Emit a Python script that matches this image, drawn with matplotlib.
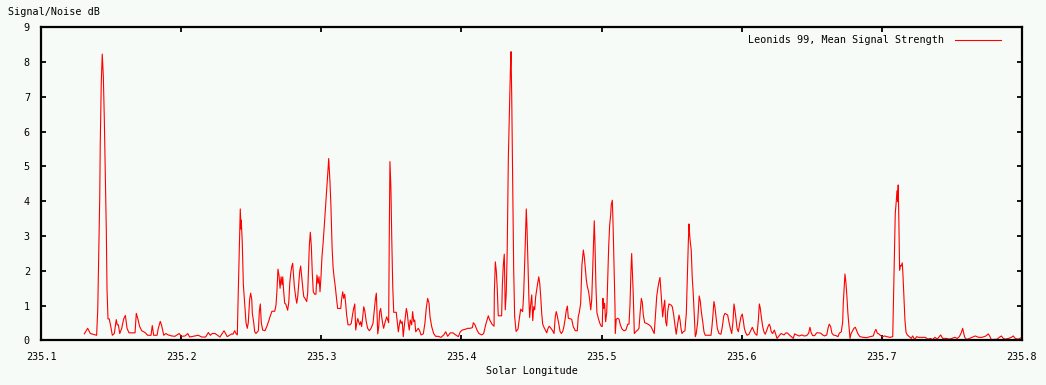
import matplotlib
matplotlib.use("Agg")
import matplotlib.pyplot as plt

# solar longitude (deg) and mean signal/noise (dB)
lon = [
    235.1309, 235.1333, 235.1352, 235.1397, 235.1405, 235.1412, 235.1419, 235.1423, 235.1430, 235.1437,
    235.1445, 235.1452, 235.1459, 235.1466, 235.1471, 235.1478, 235.1487, 235.1497, 235.1509, 235.1523,
    235.1537, 235.1544, 235.1552, 235.1562, 235.1576, 235.1590, 235.1602, 235.1614, 235.1628, 235.1671,
    235.1680, 235.1690, 235.1704, 235.1719, 235.1742, 235.1761, 235.1785, 235.1794, 235.1804, 235.1828,
    235.1837, 235.1851, 235.1861, 235.1876, 235.1890, 235.1908, 235.1933, 235.1956, 235.1985, 235.2004,
    235.2028, 235.2047, 235.2061, 235.2099, 235.2122, 235.2147, 235.2175, 235.2194, 235.2208, 235.2222,
    235.2242, 235.2277, 235.2306, 235.2329, 235.2361, 235.2370, 235.2382, 235.2392, 235.2401, 235.2404,
    235.2411, 235.2418, 235.2422, 235.2427, 235.2429, 235.2436, 235.2444, 235.2454, 235.2463, 235.2472,
    235.2479, 235.2489, 235.2496, 235.2504, 235.2508, 235.2518, 235.2525, 235.2534, 235.2551, 235.2558,
    235.2565, 235.2572, 235.2582, 235.2598, 235.2611, 235.2625, 235.2634, 235.2648, 235.2668, 235.2677,
    235.2684, 235.2691, 235.2698, 235.2706, 235.2713, 235.2720, 235.2725, 235.2732, 235.2739, 235.2746,
    235.2753, 235.2760, 235.2768, 235.2775, 235.2782, 235.2789, 235.2796, 235.2800, 235.2808, 235.2817,
    235.2825, 235.2832, 235.2839, 235.2846, 235.2853, 235.2860, 235.2867, 235.2875, 235.2884, 235.2896,
    235.2903, 235.2910, 235.2915, 235.2922, 235.2929, 235.2936, 235.2943, 235.2953, 235.2962, 235.2969,
    235.2977, 235.2984, 235.2991, 235.2998, 235.3005, 235.3014, 235.3022, 235.3029, 235.3036, 235.3043,
    235.3048, 235.3053, 235.3057, 235.3062, 235.3069, 235.3077, 235.3084, 235.3091, 235.3100, 235.3110,
    235.3117, 235.3139, 235.3146, 235.3153, 235.3160, 235.3167, 235.3174, 235.3181, 235.3191, 235.3205,
    235.3214, 235.3224, 235.3231, 235.3239, 235.3246, 235.3253, 235.3260, 235.3267, 235.3274, 235.3281,
    235.3288, 235.3296, 235.3303, 235.3310, 235.3321, 235.3331, 235.3343, 235.3355, 235.3369, 235.3378,
    235.3386, 235.3393, 235.3398, 235.3403, 235.3410, 235.3417, 235.3424, 235.3431, 235.3438, 235.3445,
    235.3453, 235.3460, 235.3467, 235.3474, 235.3481, 235.3485, 235.3490, 235.3497, 235.3503, 235.3510,
    235.3517, 235.3535, 235.3542, 235.3550, 235.3557, 235.3564, 235.3571, 235.3578, 235.3585, 235.3592,
    235.3600, 235.3607, 235.3614, 235.3621, 235.3628, 235.3635, 235.3645, 235.3652, 235.3660, 235.3667,
    235.3674, 235.3683, 235.3692, 235.3702, 235.3712, 235.3728, 235.3740, 235.3749, 235.3759, 235.3769,
    235.3776, 235.3788, 235.3802, 235.3816, 235.3835, 235.3854, 235.3874, 235.3888, 235.3902, 235.3921,
    235.3940, 235.3959, 235.3978, 235.3992, 235.4006, 235.4026, 235.4045, 235.4063, 235.4078, 235.4085,
    235.4097, 235.4111, 235.4125, 235.4145, 235.4159, 235.4173, 235.4183, 235.4192, 235.4202, 235.4218,
    235.4233, 235.4235, 235.4242, 235.4249, 235.4256, 235.4263, 235.4287, 235.4292, 235.4299, 235.4306,
    235.4313, 235.4320, 235.4327, 235.4335, 235.4342, 235.4349, 235.4354, 235.4359, 235.4366, 235.4373,
    235.4380, 235.4390, 235.4404, 235.4413, 235.4423, 235.4437, 235.4444, 235.4452, 235.4459, 235.4463,
    235.4468, 235.4475, 235.4482, 235.4487, 235.4494, 235.4502, 235.4509, 235.4516, 235.4523, 235.4530,
    235.4537, 235.4544, 235.4552, 235.4559, 235.4566, 235.4573, 235.4580, 235.4589, 235.4599, 235.4609,
    235.4618, 235.4627, 235.4639, 235.4651, 235.4661, 235.4670, 235.4677, 235.4684, 235.4694, 235.4704,
    235.4713, 235.4723, 235.4732, 235.4741, 235.4748, 235.4756, 235.4763, 235.4787, 235.4798, 235.4813,
    235.4827, 235.4834, 235.4841, 235.4851, 235.4860, 235.4870, 235.4877, 235.4884, 235.4891, 235.4898,
    235.4908, 235.4915, 235.4923, 235.4930, 235.4937, 235.4944, 235.4948, 235.4953, 235.4960, 235.4967,
    235.4977, 235.4987, 235.4998, 235.5005, 235.5010, 235.5015, 235.5022, 235.5029, 235.5037, 235.5044,
    235.5051, 235.5058, 235.5065, 235.5069, 235.5077, 235.5082, 235.5089, 235.5096, 235.5098, 235.5105,
    235.5115, 235.5125, 235.5134, 235.5146, 235.5160, 235.5174, 235.5187, 235.5196, 235.5203, 235.5210,
    235.5215, 235.5219, 235.5226, 235.5234, 235.5246, 235.5258, 235.5267, 235.5276, 235.5284, 235.5291,
    235.5298, 235.5308, 235.5322, 235.5339, 235.5353, 235.5367, 235.5376, 235.5384, 235.5394, 235.5403,
    235.5410, 235.5417, 235.5422, 235.5429, 235.5436, 235.5444, 235.5451, 235.5458, 235.5465, 235.5472,
    235.5481, 235.5496, 235.5505, 235.5515, 235.5524, 235.5533, 235.5543, 235.5553, 235.5560, 235.5567,
    235.5574, 235.5583, 235.5595, 235.5605, 235.5612, 235.5619, 235.5624, 235.5629, 235.5633, 235.5640,
    235.5647, 235.5655, 235.5662, 235.5669, 235.5676, 235.5686, 235.5693, 235.5697, 235.5705, 235.5712,
    235.5722, 235.5731, 235.5740, 235.5758, 235.5781, 235.5788, 235.5795, 235.5802, 235.5809, 235.5817,
    235.5826, 235.5838, 235.5852, 235.5862, 235.5872, 235.5881, 235.5900, 235.5909, 235.5919, 235.5929,
    235.5938, 235.5945, 235.5952, 235.5959, 235.5967, 235.5976, 235.5986, 235.5995, 235.6004, 235.6011,
    235.6019, 235.6028, 235.6038, 235.6052, 235.6066, 235.6076, 235.6086, 235.6095, 235.6109, 235.6119,
    235.6126, 235.6133, 235.6140, 235.6150, 235.6159, 235.6168, 235.6178, 235.6188, 235.6197, 235.6204,
    235.6211, 235.6221, 235.6233, 235.6243, 235.6252, 235.6266, 235.6281, 235.6302, 235.6316, 235.6328,
    235.6340, 235.6354, 235.6368, 235.6378, 235.6393, 235.6411, 235.6430, 235.6445, 235.6464, 235.6478,
    235.6487, 235.6497, 235.6507, 235.6521, 235.6535, 235.6549, 235.6564, 235.6578, 235.6592, 235.6607,
    235.6616, 235.6625, 235.6635, 235.6644, 235.6654, 235.6673, 235.6687, 235.6697, 235.6711, 235.6721,
    235.6725, 235.6732, 235.6737, 235.6744, 235.6751, 235.6758, 235.6766, 235.6773, 235.6780, 235.6792,
    235.6801, 235.6811, 235.6821, 235.6830, 235.6844, 235.6868, 235.6892, 235.6916, 235.6939, 235.6949,
    235.6958, 235.6968, 235.6978, 235.6992, 235.7006, 235.7020, 235.7035, 235.7058, 235.7078, 235.7082,
    235.7089, 235.7096, 235.7103, 235.7108, 235.7113, 235.7117, 235.7122, 235.7127, 235.7132, 235.7139,
    235.7146, 235.7151, 235.7158, 235.7165, 235.7173, 235.7182, 235.7196, 235.7210, 235.7220, 235.7234,
    235.7249, 235.7263, 235.7296, 235.7310, 235.7329, 235.7344, 235.7363, 235.7379, 235.7396, 235.7406,
    235.7420, 235.7434, 235.7463, 235.7481, 235.7501, 235.7520, 235.7539, 235.7553, 235.7567, 235.7577,
    235.7585, 235.7592, 235.7606, 235.7625, 235.7644, 235.7667, 235.7691, 235.7715, 235.7729, 235.7743,
    235.7760, 235.7772, 235.7781, 235.7800, 235.7824, 235.7838, 235.7853, 235.7867, 235.7881, 235.7905,
    235.7924, 235.7938, 235.7952, 235.7972, 235.7986, 235.7998,
]

snr = [
    0.19, 0.35, 0.20, 0.15, 0.90, 2.50, 4.07, 5.70, 7.39, 8.23,
    7.56, 6.32, 4.82, 3.16, 1.48, 0.62, 0.62, 0.42, 0.15, 0.20,
    0.60, 0.45, 0.45, 0.20, 0.35, 0.62, 0.72, 0.35, 0.22, 0.22,
    0.78, 0.64, 0.40, 0.28, 0.23, 0.15, 0.15, 0.43, 0.15, 0.15,
    0.35, 0.55, 0.43, 0.15, 0.20, 0.16, 0.13, 0.12, 0.20, 0.12,
    0.13, 0.20, 0.10, 0.13, 0.15, 0.10, 0.10, 0.23, 0.15, 0.20,
    0.20, 0.10, 0.28, 0.11, 0.19, 0.18, 0.28, 0.20, 0.16, 0.76,
    1.98, 3.18, 3.78, 3.20, 3.46, 2.84, 1.61, 1.05, 0.51, 0.35,
    0.51, 1.18, 1.36, 1.18, 0.78, 0.51, 0.25, 0.20, 0.28, 0.84,
    1.05, 0.51, 0.30, 0.28, 0.40, 0.56, 0.68, 0.84, 0.84, 1.02,
    1.45, 2.05, 1.88, 1.50, 1.83, 1.60, 1.83, 1.40, 1.07, 1.05,
    0.97, 0.87, 1.09, 1.64, 1.93, 2.12, 2.22, 1.98, 1.55, 1.26,
    1.07, 1.26, 1.64, 1.98, 2.14, 1.83, 1.55, 1.26, 1.21, 1.12,
    1.36, 2.12, 2.74, 3.11, 2.71, 1.93, 1.40, 1.33, 1.33, 1.88,
    1.64, 1.83, 1.40, 1.83, 2.41, 2.84, 3.32, 3.70, 4.13, 4.56,
    4.90, 5.23, 4.95, 4.56, 3.85, 2.70, 2.12, 1.83, 1.55, 1.16,
    0.92, 0.92, 1.21, 1.40, 1.21, 1.33, 1.07, 0.73, 0.45, 0.45,
    0.49, 0.76, 0.92, 1.05, 0.30, 0.49, 0.63, 0.54, 0.45, 0.54,
    0.40, 0.68, 0.97, 0.87, 0.54, 0.35, 0.28, 0.35, 0.49, 0.87,
    1.18, 1.36, 0.78, 0.19, 0.40, 0.83, 0.92, 0.68, 0.49, 0.35,
    0.49, 0.59, 0.68, 0.59, 0.51, 2.84, 5.14, 4.37, 2.93, 1.55,
    0.81, 0.81, 0.54, 0.25, 0.45, 0.59, 0.49, 0.54, 0.11, 0.40,
    0.68, 0.92, 0.78, 0.49, 0.30, 0.59, 0.45, 0.83, 0.54, 0.59,
    0.25, 0.30, 0.35, 0.28, 0.16, 0.19, 0.51, 0.92, 1.21, 1.07,
    0.68, 0.40, 0.20, 0.12, 0.12, 0.09, 0.16, 0.25, 0.12, 0.22,
    0.22, 0.16, 0.11, 0.25, 0.30, 0.32, 0.35, 0.35, 0.37, 0.51,
    0.45, 0.30, 0.20, 0.16, 0.20, 0.45, 0.59, 0.71, 0.59, 0.47,
    0.41, 1.35, 2.26, 2.00, 1.47, 0.71, 0.71, 1.56, 2.17, 2.48,
    0.88, 1.36, 2.62, 5.26, 6.47, 7.69, 8.30, 7.03, 4.54, 2.05,
    0.69, 0.26, 0.33, 0.62, 0.90, 0.83, 1.31, 2.29, 3.25, 3.78,
    3.25, 2.22, 1.16, 0.66, 1.02, 1.31, 0.57, 0.97, 0.88, 1.26,
    1.45, 1.64, 1.83, 1.64, 1.26, 0.78, 0.47, 0.38, 0.30, 0.22,
    0.35, 0.41, 0.35, 0.28, 0.20, 0.69, 0.83, 0.71, 0.50, 0.26,
    0.20, 0.26, 0.41, 0.64, 0.86, 0.99, 0.64, 0.61, 0.40, 0.28,
    0.28, 0.69, 0.80, 1.07, 2.17, 2.60, 2.41, 2.07, 1.76, 1.56,
    1.40, 1.18, 0.88, 1.18, 2.07, 2.98, 3.44, 2.81, 1.55, 0.80,
    0.64, 0.50, 0.41, 0.40, 1.21, 0.92, 1.07, 0.54, 0.80, 1.76,
    2.70, 3.32, 3.60, 3.89, 4.03, 3.38, 2.12, 0.97, 0.20, 0.61,
    0.64, 0.61, 0.45, 0.33, 0.28, 0.30, 0.47, 0.47, 1.02, 2.00,
    2.50, 2.10, 1.36, 0.20, 0.26, 0.30, 0.35, 0.83, 1.21, 1.09,
    0.73, 0.51, 0.49, 0.45, 0.40, 0.28, 0.20, 0.68, 1.28, 1.53,
    1.69, 1.81, 1.53, 1.09, 0.68, 0.97, 1.16, 0.54, 0.42, 0.83,
    1.05, 1.02, 0.97, 0.73, 0.44, 0.18, 0.47, 0.73, 0.59, 0.35,
    0.20, 0.25, 0.28, 0.78, 1.81, 2.79, 3.35, 3.03, 2.84, 2.60,
    1.83, 1.31, 0.68, 0.11, 0.20, 0.54, 1.02, 1.28, 1.12, 0.83,
    0.54, 0.25, 0.15, 0.15, 0.15, 0.40, 0.73, 1.12, 0.97, 0.68,
    0.35, 0.20, 0.18, 0.40, 0.70, 0.78, 0.73, 0.54, 0.35, 0.20,
    0.54, 1.05, 0.87, 0.64, 0.35, 0.25, 0.49, 0.68, 0.76, 0.59,
    0.35, 0.23, 0.15, 0.18, 0.30, 0.38, 0.28, 0.20, 0.15, 0.59,
    1.05, 0.92, 0.68, 0.40, 0.25, 0.18, 0.28, 0.40, 0.47, 0.40,
    0.25, 0.20, 0.30, 0.18, 0.06, 0.13, 0.20, 0.16, 0.22, 0.21,
    0.16, 0.11, 0.06, 0.19, 0.16, 0.13, 0.16, 0.13, 0.14, 0.21,
    0.38, 0.21, 0.14, 0.14, 0.22, 0.22, 0.21, 0.16, 0.13, 0.16,
    0.35, 0.47, 0.40, 0.21, 0.16, 0.14, 0.11, 0.21, 0.25, 0.54,
    1.07, 1.59, 1.91, 1.66, 1.26, 0.78, 0.40, 0.06, 0.19, 0.28,
    0.35, 0.38, 0.28, 0.19, 0.11, 0.09, 0.08, 0.11, 0.13, 0.25,
    0.32, 0.21, 0.19, 0.14, 0.11, 0.13, 0.11, 0.09, 0.11, 0.92,
    2.31, 3.65, 3.99, 4.30, 3.99, 4.47, 3.37, 2.02, 2.16, 2.14,
    2.23, 1.88, 1.26, 0.59, 0.23, 0.16, 0.11, 0.06, 0.13, 0.03,
    0.11, 0.09, 0.09, 0.09, 0.04, 0.06, 0.03, 0.09, 0.04, 0.09,
    0.16, 0.06, 0.06, 0.04, 0.06, 0.09, 0.06, 0.11, 0.22, 0.35,
    0.20, 0.09, 0.03, 0.06, 0.09, 0.13, 0.09, 0.09, 0.11, 0.13,
    0.19, 0.11, 0.03, 0.03, 0.04, 0.09, 0.13, 0.06, 0.04, 0.06,
    0.09, 0.13, 0.06, 0.04, 0.06, 0.09,
]

x_ticks = [235.1, 235.2, 235.3, 235.4, 235.5, 235.6, 235.7, 235.8]
y_ticks = [0, 1, 2, 3, 4, 5, 6, 7, 8, 9]

bg = "#f7fbf7"
fs = 7.3
plt.rcParams['font.family'] = ['DejaVu Sans Mono']

fig = plt.figure(figsize=(10.46, 3.85), dpi=100, facecolor=bg)
ax = fig.add_axes([0.0392, 0.1156, 0.9378, 0.8135], facecolor=bg)

ax.plot(lon, snr, color='#ff0000', lw=0.8, label='Leonids 99, Mean Signal Strength')

ax.set_xlim(235.1, 235.8)
ax.set_ylim(0, 9)
ax.set_xticks(x_ticks)
ax.set_xticklabels(['%.1f' % t for t in x_ticks])
ax.set_yticks(y_ticks)
ax.tick_params(direction='in', length=3.5, width=1.3, top=True, right=True,
               labelsize=fs, colors='black')
ax.tick_params(axis='x', pad=8)
ax.tick_params(axis='y', pad=8)
for s in ax.spines.values():
    s.set_linewidth(1.6)

ax.set_xlabel('Solar Longitude', fontsize=fs, labelpad=3)
fig.text(0.008, 0.968, 'Signal/Noise dB', fontsize=fs, ha='left', va='center')

ax.legend(loc='center right', bbox_to_anchor=(0.979, 0.959), frameon=False,
          markerfirst=False, fontsize=fs, handlelength=4.6, borderaxespad=0,
          borderpad=0, handletextpad=1.1)

fig.savefig('out.png', dpi=100, facecolor=bg)
